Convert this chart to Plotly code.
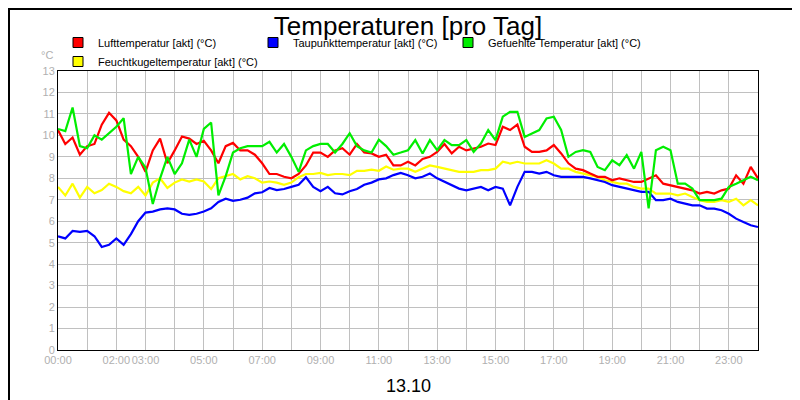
import plotly.graph_objects as go

hours = [i * 0.25 for i in range(97)]

luft = [10.25, 9.6, 9.9, 9.1, 9.5, 9.6, 10.5, 11.05, 10.7, 9.8, 9.5, 9.0, 8.3, 9.3, 9.85, 8.7,
        9.3, 9.95, 9.85, 9.6, 9.75, 9.3, 8.7, 9.5, 9.65, 9.3, 9.3, 9.1, 8.7, 8.2, 8.2, 8.07,
        8.0, 8.2, 8.6, 9.2, 9.2, 9.0, 9.3, 9.4, 9.1, 9.6, 9.2, 9.16, 9.0, 9.1, 8.6, 8.6,
        8.77, 8.6, 8.9, 9.0, 9.23, 9.6, 9.16, 9.47, 9.3, 9.4, 9.47, 9.62, 9.55, 10.4, 10.25, 10.5,
        9.47, 9.23, 9.23, 9.3, 9.55, 9.16, 8.7, 8.45, 8.38, 8.22, 8.07, 8.07, 7.91, 8.0, 7.91, 7.83,
        7.83, 8.0, 8.14, 7.75, 7.68, 7.6, 7.52, 7.44, 7.29, 7.37, 7.29, 7.44, 7.52, 8.14, 7.75, 8.53, 8.0]

taupunkt = [5.3, 5.2, 5.55, 5.5, 5.55, 5.3, 4.8, 4.9, 5.2, 4.9, 5.4, 6.0, 6.4, 6.45, 6.55, 6.6,
            6.55, 6.35, 6.3, 6.35, 6.45, 6.6, 6.9, 7.05, 6.95, 7.0, 7.1, 7.3, 7.35, 7.55, 7.45, 7.5,
            7.6, 7.7, 8.05, 7.6, 7.4, 7.6, 7.3, 7.25, 7.4, 7.5, 7.7, 7.8, 7.95, 8.0, 8.15, 8.25,
            8.14, 8.0, 8.07, 8.22, 8.0, 7.83, 7.68, 7.52, 7.44, 7.52, 7.6, 7.44, 7.6, 7.52, 6.74, 7.6,
            8.3, 8.3, 8.22, 8.3, 8.14, 8.07, 8.07, 8.07, 8.07, 8.0, 7.91, 7.83, 7.68, 7.6, 7.52, 7.44,
            7.37, 7.37, 6.98, 6.98, 7.05, 6.9, 6.82, 6.74, 6.74, 6.59, 6.59, 6.51, 6.35, 6.12, 5.96, 5.81, 5.73]

gefuehlt = [10.3, 10.2, 11.3, 9.5, 9.4, 10.0, 9.8, 10.1, 10.4, 10.8, 8.2, 9.0, 8.5, 6.8, 8.0, 9.0,
            8.2, 8.7, 9.8, 9.0, 10.3, 10.6, 7.2, 8.1, 9.2, 9.4, 9.5, 9.5, 9.5, 9.7, 9.2, 9.6,
            9.0, 8.3, 9.3, 9.5, 9.6, 9.6, 9.2, 9.6, 10.1, 9.5, 9.3, 9.2, 9.8, 9.5, 9.1, 9.2,
            9.31, 9.78, 9.16, 9.78, 9.31, 9.78, 9.55, 9.55, 9.78, 9.23, 9.62, 10.25, 9.78, 10.87, 11.1, 11.1,
            9.93, 10.09, 10.25, 10.79, 10.87, 10.25, 9.0, 9.23, 9.31, 9.23, 8.53, 8.38, 8.84, 8.61, 9.08, 8.45,
            9.23, 6.6, 9.31, 9.47, 9.31, 7.75, 7.75, 7.52, 6.98, 6.98, 6.98, 7.05, 7.6, 7.75, 7.91, 8.07, 7.91]

feuchtkugel = [7.6, 7.2, 7.75, 7.1, 7.6, 7.3, 7.45, 7.75, 7.6, 7.4, 7.3, 7.6, 7.2, 7.8, 8.0, 7.55,
               7.8, 7.95, 7.85, 7.95, 7.85, 7.5, 8.0, 8.1, 8.2, 7.95, 8.1, 8.0, 7.8, 7.85, 7.8, 7.7,
               7.8, 8.05, 8.2, 8.2, 8.25, 8.15, 8.2, 8.2, 8.15, 8.35, 8.35, 8.4, 8.35, 8.55, 8.4, 8.45,
               8.45, 8.3, 8.45, 8.6, 8.53, 8.45, 8.38, 8.3, 8.3, 8.3, 8.38, 8.38, 8.45, 8.77, 8.69, 8.77,
               8.69, 8.69, 8.69, 8.84, 8.69, 8.45, 8.45, 8.3, 8.22, 8.14, 8.07, 7.91, 7.83, 7.75, 7.75, 7.6,
               7.52, 7.52, 7.29, 7.29, 7.29, 7.21, 7.29, 7.13, 6.98, 6.9, 6.9, 6.98, 6.9, 7.05, 6.74, 6.98, 6.74]

series = [
    ('Lufttemperatur [akt] (°C)', luft, '#ff0000'),
    ('Taupunkttemperatur [akt] (°C)', taupunkt, '#0000ff'),
    ('Gefuehlte Temperatur [akt] (°C)', gefuehlt, '#00ee00'),
    ('Feuchtkugeltemperatur [akt] (°C)', feuchtkugel, '#ffff00'),
]
draw_order = [3, 1, 0, 2]

tick_vals = list(range(25))
tick_text = ['00:00', '', '02:00', '03:00', '', '05:00', '', '07:00', '', '09:00', '', '11:00', '',
             '13:00', '', '15:00', '', '17:00', '', '19:00', '', '21:00', '', '23:00', '']

PW, PH = 700, 279

fig = go.Figure()
for i in draw_order:
    name, vals, col = series[i]
    fig.add_trace(go.Scatter(x=hours, y=vals, mode='lines', line=dict(color=col, width=2.2),
                             showlegend=False, hoverinfo='skip'))
# legend entries with square swatches
for name, vals, col in series:
    fig.add_trace(go.Scatter(x=[None], y=[None], mode='markers', name=name,
                             marker=dict(symbol='square', size=10, color=col,
                                         line=dict(color='black', width=1))))

fig.update_layout(
    width=800, height=400,
    paper_bgcolor='white', plot_bgcolor='white',
    margin=dict(l=50, r=50, t=63, b=58),
    font=dict(family='Liberation Sans, Arial', size=11, color='black'),
    title=dict(text='Temperaturen [pro Tag]', x=0.5, xanchor='center', y=0.955, yanchor='middle',
               font=dict(size=26, color='black')),
    legend=dict(orientation='h', x=0.0, y=1 + 19 / PH, xanchor='left', yanchor='middle',
                font=dict(size=11), itemwidth=30, entrywidth=150, entrywidthmode='pixels',
                tracegroupgap=0, bgcolor='rgba(0,0,0,0)'),
    xaxis=dict(range=[0, 24], tickvals=tick_vals, ticktext=tick_text, showgrid=True, tickangle=0,
               gridcolor='#c0c0c0', gridwidth=1, showline=True, linecolor='black', mirror=True,
               ticks='', tickfont=dict(color='#b0b0b0', size=11), zeroline=False),
    yaxis=dict(range=[0, 13], dtick=1, showgrid=True, gridcolor='#c0c0c0', gridwidth=1,
               showline=True, linecolor='black', mirror=True, ticks='',
               tickfont=dict(color='#b0b0b0', size=11), zeroline=False),
    shapes=[dict(type='rect', xref='paper', yref='paper', x0=-49 / PW, x1=1 + 49 / PW,
                 y0=-57 / PH, y1=1 + 62 / PH, line=dict(color='black', width=2))],
    annotations=[
        dict(text='°C', xref='paper', yref='paper', x=-0.005, y=1 + 16 / PH, showarrow=False,
             xanchor='right', yanchor='middle', font=dict(color='#b0b0b0', size=11)),
        dict(text='13.10', xref='paper', yref='paper', x=0.5, y=-36 / PH, showarrow=False,
             xanchor='center', yanchor='middle', font=dict(size=18, color='black')),
    ],
)

fig.write_html('out.html')
